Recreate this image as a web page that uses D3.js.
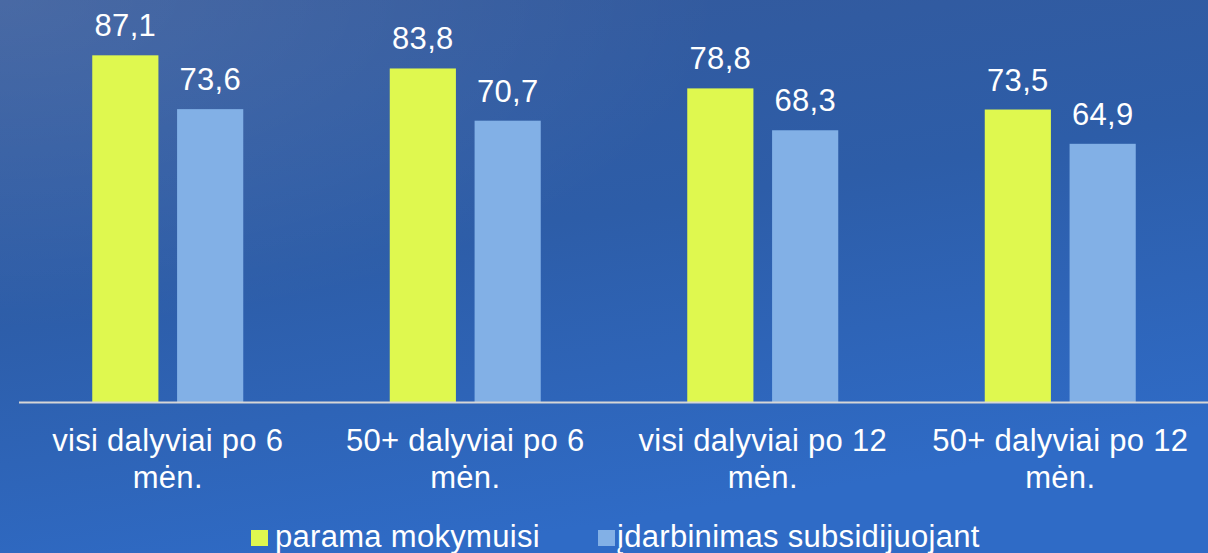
<!DOCTYPE html>
<html lang="lt">
<head>
  <meta charset="utf-8" />
  <title>Parama mokymuisi ir įdarbinimas subsidijuojant</title>
  <script src="https://cdn.jsdelivr.net/npm/d3@7"></script>
  <style>
html, body { margin: 0; padding: 0; overflow: hidden; }
svg { display: block; font-family: "Liberation Sans", Arial, sans-serif; }
svg text { letter-spacing: 0.3px; }
  </style>
</head>
<body>
<script>

var categories = [
  ["visi dalyviai po 6", "mėn."],
  ["50+ dalyviai po 6", "mėn."],
  ["visi dalyviai po 12", "mėn."],
  ["50+ dalyviai po 12", "mėn."]
];
var seriesNames = ["parama mokymuisi", "įdarbinimas subsidijuojant"];
var mokymuisi = [87.1, 83.8, 78.8, 73.5];
var subsidijuojant = [73.6, 70.7, 68.3, 64.9];
var colors = ["#dff84f", "#82b0e6"];

var w = 1208, h = 553;
var baseY = 402.5;

var svg = d3.select("body").append("svg")
    .attr("width", w)
    .attr("height", h);

// background gradient
var defs = svg.append("defs");
var grad = defs.append("linearGradient")
    .attr("id", "bg")
    .attr("x1", "0").attr("y1", "0")
    .attr("x2", "0.35").attr("y2", "1");
grad.append("stop").attr("offset", "0").attr("stop-color", "#35599a");
grad.append("stop").attr("offset", "0.5").attr("stop-color", "#2d5da8");
grad.append("stop").attr("offset", "1").attr("stop-color", "#2f6bc6");
var glow = defs.append("radialGradient")
    .attr("id", "glow")
    .attr("cx", "0").attr("cy", "0").attr("r", "0.6");
glow.append("stop").attr("offset", "0").attr("stop-color", "#ffffff").attr("stop-opacity", 0.1);
glow.append("stop").attr("offset", "1").attr("stop-color", "#ffffff").attr("stop-opacity", 0);

svg.append("rect").attr("width", w).attr("height", h).attr("fill", "url(#bg)");
svg.append("rect").attr("width", w).attr("height", h).attr("fill", "url(#glow)");

var x0 = d3.scaleBand()
    .domain(d3.range(categories.length))
    .range([19, 1209]);
var x1 = d3.scaleBand()
    .domain([0, 1])
    .range([0, 151])
    .paddingInner(0.22);
var y = d3.scaleLinear()
    .domain([0, 100])
    .range([baseY, 3.9]);

var data = categories.map(function(c, i) {
  return { i: i, vals: [mokymuisi[i], subsidijuojant[i]] };
});

var groups = svg.append("g").attr("id", "bars")
  .selectAll("g")
  .data(data)
  .enter().append("g")
    .attr("transform", function(d) {
      return "translate(" + (x0(d.i) + (x0.bandwidth() - 151) / 2) + ",0)";
    });

groups.selectAll("rect")
  .data(function(d) { return d.vals; })
  .enter().append("rect")
    .attr("x", function(v, j) { return x1(j); })
    .attr("y", function(v) { return y(v); })
    .attr("width", x1.bandwidth())
    .attr("height", function(v) { return baseY - y(v); })
    .attr("fill", function(v, j) { return colors[j]; });

groups.selectAll("text")
  .data(function(d) { return d.vals; })
  .enter().append("text")
    .attr("x", function(v, j) { return x1(j) + x1.bandwidth() / 2; })
    .attr("y", function(v) { return y(v) - 19; })
    .attr("text-anchor", "middle")
    .attr("fill", "#ffffff")
    .attr("font-size", 31)
    .text(function(v) { return String(v).replace(".", ","); });

// axis line
svg.append("line")
    .attr("x1", 19).attr("x2", w)
    .attr("y1", baseY).attr("y2", baseY)
    .attr("stroke", "#d6d6d6")
    .attr("stroke-width", 2);

// category labels
var cat = svg.append("g").selectAll("text")
  .data(categories)
  .enter().append("text")
    .attr("x", function(c, i) { return x0(i) + x0.bandwidth() / 2; })
    .attr("y", 451)
    .attr("text-anchor", "middle")
    .attr("fill", "#ffffff")
    .attr("font-size", 31);
cat.selectAll("tspan")
  .data(function(c) { return c; })
  .enter().append("tspan")
    .attr("x", function() { return d3.select(this.parentNode).attr("x"); })
    .attr("dy", function(t, k) { return k === 0 ? 0 : 37; })
    .text(function(t) { return t; });

// legend
var legX = [251, 598];
var leg = svg.append("g").selectAll("g")
  .data(seriesNames)
  .enter().append("g")
    .attr("transform", function(d, i) { return "translate(" + legX[i] + ",0)"; });
leg.append("rect")
    .attr("x", 0).attr("y", 530)
    .attr("width", 17).attr("height", 16)
    .attr("fill", function(d, i) { return colors[i]; });
leg.append("text")
    .attr("x", function(d, i) { return i === 0 ? 24 : 19; })
    .attr("y", 547)
    .attr("fill", "#ffffff")
    .attr("font-size", 31)
    .text(function(d) { return d; });

</script>
</body>
</html>
